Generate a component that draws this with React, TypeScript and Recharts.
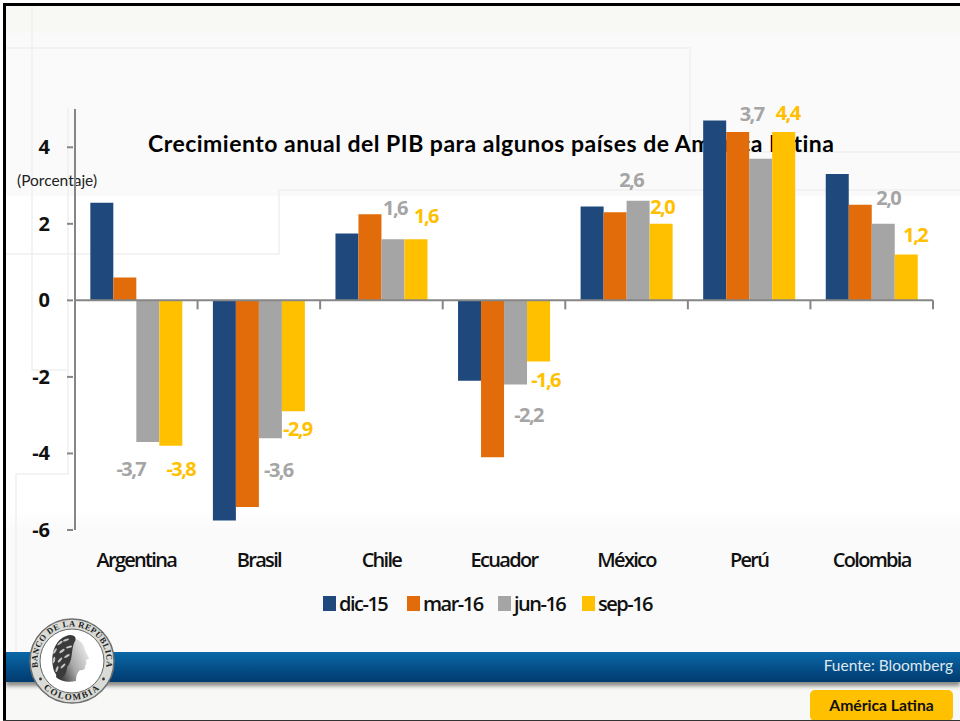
import { BarChart, Bar, XAxis, YAxis, ReferenceLine, LabelList, Legend } from 'recharts'

const categories = ['Argentina', 'Brasil', 'Chile', 'Ecuador', 'México', 'Perú', 'Colombia']
const dic15 = [2.55, -5.75, 1.75, -2.1, 2.45, 4.7, 3.3]
const mar16 = [0.6, -5.4, 2.25, -4.1, 2.3, 4.4, 2.5]
const jun16 = [-3.7, -3.6, 1.6, -2.2, 2.6, 3.7, 2.0]
const sep16 = [-3.8, -2.9, 1.6, -1.6, 2.0, 4.4, 1.2]
const yTicks = [-6, -4, -2, 0, 2, 4]

const seriesNames = ['dic-15', 'mar-16', 'jun-16', 'sep-16']
const seriesColors = ['#1f497d', '#e36c0a', '#a5a5a5', '#ffc000']

// the value labels were placed by hand in the original
const grayLabelOffsets = [[-17, 27], [8, 32], [2, -31], [13, 30], [-7, -21], [-9, -45], [5, -26]]
const yellowLabelOffsets = [[10, 23], [4, 18], [10, -23], [7, 18], [1, -17], [4, -19], [9, -19]]

const data = categories.map((name, i) => ({
  name,
  'dic-15': dic15[i],
  'mar-16': mar16[i],
  'jun-16': jun16[i],
  'sep-16': sep16[i],
}))

const PLOT_LEFT = 75
const PLOT_RIGHT = 933
const PLOT_TOP = 109
const PLOT_BOTTOM = 530
const ZERO_Y = PLOT_BOTTOM - (6 / 11) * (PLOT_BOTTOM - PLOT_TOP)
const STEP = (PLOT_RIGHT - PLOT_LEFT) / categories.length
const AXIS_COLOR = '#868686'
const FONT = '"Open Sans", sans-serif'

const CategoryTick = ({ x, y, payload }: any) => (
  <g>
    <line x1={x + STEP / 2} x2={x + STEP / 2} y1={ZERO_Y} y2={ZERO_Y + 9} stroke={AXIS_COLOR} strokeWidth={2} />
    <text x={x} y={y + 29} textAnchor="middle" fontFamily={FONT} fontSize={20} fontWeight={600} letterSpacing={-1.7} fill="#111">
      {payload.value}
    </text>
  </g>
)

const ValueTick = ({ x, y, payload }: any) => (
  <g>
    <line x1={x} x2={x + 6} y1={y} y2={y} stroke={AXIS_COLOR} strokeWidth={2} />
    <text x={x - 17} y={y + 7} textAnchor="end" fontFamily={FONT} fontSize={20} fontWeight={700} fill="#111">
      {payload.value}
    </text>
  </g>
)

const makeValueLabel = (offsets: number[][], color: string) => (props: any) => {
  const { x, y, width, value, index } = props
  const [dx, dy] = offsets[index]
  return (
    <text
      x={x + width / 2 + dx}
      y={y + dy + 7}
      textAnchor="middle"
      fontFamily={FONT}
      fontSize={20}
      fontWeight={700}
      letterSpacing={-1.6}
      fill={color}
    >
      {value.toFixed(1).replace('.', ',')}
    </text>
  )
}

const LegendRow = () => (
  <div style={{ display: 'flex', alignItems: 'center', fontFamily: FONT, fontSize: 20, fontWeight: 600, letterSpacing: -1.5, color: '#111', whiteSpace: 'nowrap' }}>
    {seriesNames.map((name, i) => (
      <div key={name} style={{ display: 'flex', alignItems: 'center', width: [84, 91, 84, 70][i] }}>
        <span style={{ width: 13, height: 15, background: seriesColors[i], marginRight: 3, flex: 'none' }} />
        <span>{name}</span>
      </div>
    ))}
  </div>
)

const laurelLeaves = [
  [36, 30, -40], [42, 27, -20], [31, 38, -60], [38, 38, -35], [45, 34, -15],
  [30, 47, -80], [36, 47, -50], [43, 43, -30], [33, 56, -70], [39, 53, -45],
]

const Seal = () => (
  <svg width={96} height={96} style={{ position: 'absolute', left: 23.5, top: 612.5 }}>
    <defs>
      <path id="sealTop" d="M 17.4 64 A 34.5 34.5 0 1 1 78.6 64" />
      <path id="sealBottom" d="M 14 68 A 40 40 0 0 0 82 68" />
      <linearGradient id="faceShade" x1="1" y1="0.2" x2="0" y2="0.8">
        <stop offset="0" stopColor="#f0f0f0" />
        <stop offset="0.55" stopColor="#a8a8a8" />
        <stop offset="1" stopColor="#2c2c2c" />
      </linearGradient>
    </defs>
    <circle cx={48} cy={48} r={42} fill="#d9dbd6" stroke="#6e6e6e" strokeWidth={1.5} />
    <circle cx={48} cy={48} r={32} fill="#fff" stroke="#666" strokeWidth={1} />
    <text fontFamily='"Liberation Serif", serif' fontSize={8.5} fontWeight={700} letterSpacing={0.5} fill="#222">
      <textPath href="#sealTop" startOffset="50%" textAnchor="middle">BANCO DE LA REPÚBLICA</textPath>
    </text>
    <text fontFamily='"Liberation Serif", serif' fontSize={9} fontWeight={700} letterSpacing={1.5} fill="#222">
      <textPath href="#sealBottom" startOffset="50%" textAnchor="middle">COLOMBIA</textPath>
    </text>
    <circle cx={16.5} cy={66} r={1.4} fill="#333" />
    <circle cx={79.5} cy={66} r={1.4} fill="#333" />
    <path
      d="M 44 26 C 54 24 60 30 61 37 C 62 40 65 44 65 46 L 62 47 C 63 50 62 52 61 53 C 62 55 60 58 56 57 C 53 60 52 63 52 68 C 44 70 36 68 32 64 C 36 50 36 36 44 26 Z"
      fill="url(#faceShade)"
    />
    <path d="M 30 58 C 25 40 32 24 46 22 C 52 22 53 26 50 30 C 47 38 49 48 43 54 C 43 60 39 67 34 65 Z" fill="#3a3a3a" />
    {laurelLeaves.map(([cx, cy, angle]) => (
      <ellipse key={`${cx}-${cy}`} cx={cx} cy={cy} rx={3.2} ry={1.1} fill="#c4c4c4" transform={`rotate(${angle} ${cx} ${cy})`} />
    ))}
  </svg>
)

// faint frame lines of the slide template
const Frame = () => (
  <svg width={960} height={721} style={{ position: 'absolute', left: 0, top: 0 }}>
    <g fill="none" stroke="#f0f0f0" strokeWidth={1.5}>
      <path d="M 6 48 H 690 V 152 H 960" />
      <path d="M 960 190 H 279 V 254 H 6" />
      <path d="M 32 5 V 370 H 68" />
      <path d="M 68 108 V 474 H 16 V 652" />
    </g>
  </svg>
)

export default function App() {
  return (
    <div style={{ position: 'fixed', left: 0, top: 0, width: 960, height: 721, overflow: 'hidden', background: '#fff' }}>
      <div style={{ position: 'absolute', left: 6, top: 5, width: 954, height: 191, background: '#fafafa' }} />
      <div style={{ position: 'absolute', left: 6, top: 5, width: 954, height: 28, background: '#f8f9f4' }} />
      <div style={{ position: 'absolute', left: 6, top: 510, width: 954, height: 142, background: 'linear-gradient(#ffffff, #fafafa 20px)' }} />
      <div style={{ position: 'absolute', left: 6, top: 682, width: 954, height: 39, background: '#f8f8f6' }} />
      <Frame />

      <div style={{ position: 'absolute', left: 148, top: 129, fontFamily: 'Lato, sans-serif', fontSize: 23, fontWeight: 700, color: '#000', whiteSpace: 'nowrap', letterSpacing: 0.49 }}>
        Crecimiento anual del PIB para algunos países de América Latina
      </div>
      <div style={{ position: 'absolute', left: 17, top: 171, fontFamily: 'Lato, sans-serif', fontSize: 15.5, color: '#222', whiteSpace: 'nowrap' }}>
        (Porcentaje)
      </div>

      <div style={{ position: 'absolute', left: 0, top: 0 }}>
        <BarChart
          width={960}
          height={721}
          data={data}
          barGap={0}
          barCategoryGap="12.5%"
          margin={{ top: PLOT_TOP, right: 960 - PLOT_RIGHT, bottom: 141, left: 0 }}
        >
          <XAxis dataKey="name" interval={0} height={50} axisLine={false} tickLine={false} tick={CategoryTick} />
          <YAxis
            width={PLOT_LEFT}
            domain={[-6, 5]}
            ticks={yTicks}
            tickLine={false}
            axisLine={{ stroke: AXIS_COLOR, strokeWidth: 2 }}
            tick={ValueTick}
            allowDataOverflow
          />
          <Legend
            layout="horizontal"
            verticalAlign="middle"
            align="center"
            content={LegendRow}
            wrapperStyle={{ position: 'absolute', left: 323, top: 590, width: 360, height: 28 }}
          />
          <Bar dataKey="dic-15" fill={seriesColors[0]} isAnimationActive={false} />
          <Bar dataKey="mar-16" fill={seriesColors[1]} isAnimationActive={false} />
          <Bar dataKey="jun-16" fill={seriesColors[2]} isAnimationActive={false}>
            <LabelList dataKey="jun-16" content={makeValueLabel(grayLabelOffsets, seriesColors[2])} />
          </Bar>
          <Bar dataKey="sep-16" fill={seriesColors[3]} isAnimationActive={false}>
            <LabelList dataKey="sep-16" content={makeValueLabel(yellowLabelOffsets, seriesColors[3])} />
          </Bar>
          <ReferenceLine y={0} stroke={AXIS_COLOR} strokeWidth={2} />
        </BarChart>
      </div>

      <div style={{ position: 'absolute', left: 6, top: 652, width: 954, height: 30, background: 'linear-gradient(#0a68a8, #013a6e)', boxShadow: '0 4px 4px rgba(0,0,0,0.45)' }} />
      <div style={{ position: 'absolute', right: 7, top: 656, fontFamily: 'Lato, sans-serif', fontSize: 15.5, color: '#dfe8f0', whiteSpace: 'nowrap' }}>
        Fuente: Bloomberg
      </div>
      <Seal />
      <div style={{ position: 'absolute', left: 810, top: 690, width: 143, height: 31, borderRadius: 5, background: '#ffc000', textAlign: 'center', lineHeight: '31px', fontFamily: 'Lato, sans-serif', fontSize: 15.7, fontWeight: 700, color: '#111' }}>
        América Latina
      </div>

      <div style={{ position: 'absolute', left: 3, top: 3, width: 957, height: 2.5, background: '#000' }} />
      <div style={{ position: 'absolute', left: 3, top: 3, width: 3, height: 718, background: '#000' }} />
      <div style={{ position: 'absolute', left: 3, top: 719.5, width: 957, height: 1.5, background: '#333' }} />
    </div>
  )
}
